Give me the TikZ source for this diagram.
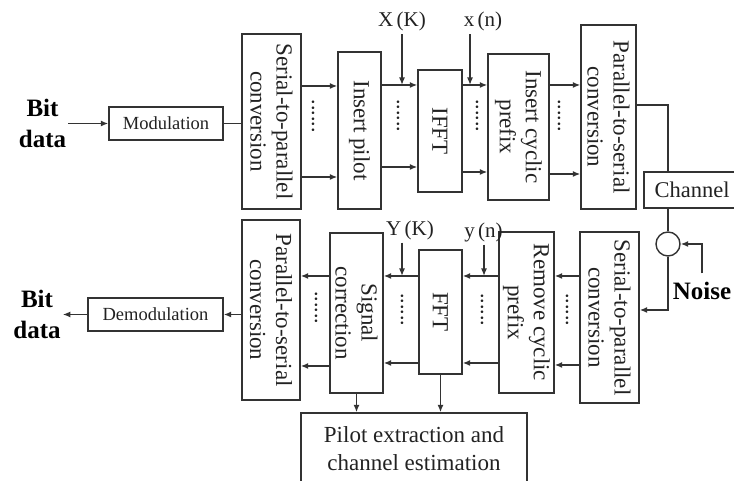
\documentclass[tikz,border=0pt]{standalone}
\usepackage{fontspec}
\setmainfont{Liberation Serif}
\usetikzlibrary{arrows.meta,positioning,calc}
\definecolor{ofline}{HTML}{333333}
\definecolor{oftext}{HTML}{222222}

\begin{document}
\begin{tikzpicture}[x=1pt, y=1pt,
  blk/.style={draw=ofline, line width=1.4pt, inner sep=0pt},
  vt/.style={rotate=-90, align=center, text=oftext, inner sep=0pt,
             font=\fontsize{23}{26}\selectfont},
  ht/.style={text=oftext, font=\fontsize{18.5}{22}\selectfont},
  bigtxt/.style={text=black, font=\fontsize{25}{31}\selectfont\bfseries,
                 align=center, inner sep=2pt},
  sig/.style={text=oftext, font=\fontsize{21}{24}\selectfont, inner sep=3pt},
  dotcol/.style={rotate=-90, text=oftext, font=\fontsize{22}{22}\selectfont,
                 inner sep=0pt},
  ar/.style={-{Latex[length=7.5pt,width=6pt]}, ofline, line width=1.4pt},
  ln/.style={ofline, line width=1.4pt},
]
\useasboundingbox (0,0) rectangle (734,481);
\clip (0,0) rectangle (734,481);

% transmitter
\node[bigtxt] (bit1) at (42.5,357.5) {Bit\\data};
\node[blk, ht, minimum width=114pt, minimum height=33pt] (mod) at (166,357.5) {Modulation};
\node[blk, minimum width=59pt, minimum height=175pt,
      label={[vt]center:Serial-to-parallel\\conversion}] (sp1) at (271.5,359.5) {};
\node[blk, minimum width=43pt, minimum height=157pt,
      label={[vt]center:Insert pilot}] (pilot) at (359.5,350.5) {};
\node[blk, minimum width=44pt, minimum height=122pt,
      label={[vt]center:IFFT}] (ifft) at (440,350) {};
\node[blk, minimum width=61pt, minimum height=146pt,
      label={[vt]center:Insert cyclic\\prefix}] (icp) at (518.5,354) {};
\node[blk, minimum width=55pt, minimum height=184pt,
      label={[vt]center:Parallel-to-serial\\conversion}] (ps1) at (608.5,364) {};

\draw[ar] (bit1) -- (mod);
\draw[ln] (mod) -- (mod -| sp1.west);

\draw[ar] (sp1.east |- 0,395) -- (pilot.west |- 0,395);
\draw[ar] (sp1.east |- 0,304) -- (pilot.west |- 0,304);
\node[dotcol] (d1) at (313,364.5) {......};
\draw[ar] (pilot.east |- 0,396) -- (ifft.west |- 0,396);
\draw[ar] (pilot.east |- 0,314) -- (ifft.west |- 0,314);
\node[dotcol] (d2) at (398,365) {......};
\draw[ar] (ifft.east |- 0,396) -- (icp.west |- 0,396);
\draw[ar] (ifft.east |- 0,309) -- (icp.west |- 0,309);
\node[dotcol] (d3) at (477,365) {......};
\draw[ar] (icp.east |- 0,396) -- (ps1.west |- 0,396);
\draw[ar] (icp.east |- 0,307) -- (ps1.west |- 0,307);
\node[dotcol] (d4) at (559,365) {......};

\node[sig] (xk) at (402,459.5) {X\,(K)};
\coordinate (xkin) at (402,396);
\draw[ar] (xk.south -| xkin) -- (xkin);
\node[sig] (xn) at (483,459.5) {x\,(n)};
\coordinate (xnin) at (470,396);
\draw[ar] (xn.south -| xnin) -- (xnin);

% channel and noise
\node[blk, text=oftext, font=\fontsize{22.5}{26}\selectfont,
      minimum width=96pt, minimum height=36pt] (chan) at (692,291) {Channel};
\node[draw=ofline, line width=1.4pt, circle, minimum size=24pt, inner sep=0pt] (cir) at (668,237) {};
\node[bigtxt, inner ysep=8pt] (noise) at (702,190.5) {Noise};

\draw[ln] (ps1.east |- 0,376) -| (cir |- chan.north);
\draw[ln] (cir |- chan.south) -- (cir);
\draw[ar] (noise.north) |- (cir.east);

% receiver
\node[blk, minimum width=59pt, minimum height=171pt,
      label={[vt]center:Serial-to-parallel\\conversion}] (sp2) at (609.5,163.5) {};
\node[blk, minimum width=55pt, minimum height=161pt,
      label={[vt]center:Remove cyclic\\prefix}] (rcp) at (526.5,168.5) {};
\node[blk, minimum width=43pt, minimum height=124pt,
      label={[vt]center:FFT}] (fft) at (440.5,169) {};
\node[blk, minimum width=53pt, minimum height=160pt,
      label={[vt]center:Signal\\correction}] (sc) at (356.5,168) {};
\node[blk, minimum width=58pt, minimum height=180pt,
      label={[vt]center:Parallel-to-serial\\conversion}] (ps2) at (271,171) {};
\node[blk, ht, minimum width=135pt, minimum height=33pt] (demod) at (155.5,166.5) {Demodulation};
\node[bigtxt] (bit2) at (37,166.5) {Bit\\data};
\node[blk, align=center, text=oftext, font=\fontsize{23}{28}\selectfont,
      minimum width=226pt, minimum height=72pt] (pex) at (414,32) {Pilot extraction and\\channel estimation};

\draw[ar] (cir.south) |- (sp2.east |- 0,171);

\draw[ar] (sp2.west |- 0,205) -- (rcp.east |- 0,205);
\draw[ar] (sp2.west |- 0,116) -- (rcp.east |- 0,116);
\node[dotcol] (d5) at (567,171) {......};
\draw[ar] (rcp.west |- 0,205) -- (fft.east |- 0,205);
\draw[ar] (rcp.west |- 0,118) -- (fft.east |- 0,118);
\node[dotcol] (d6) at (482,171) {......};
\draw[ar] (fft.west |- 0,205) -- (sc.east |- 0,205);
\draw[ar] (fft.west |- 0,118) -- (sc.east |- 0,118);
\node[dotcol] (d7) at (402,171) {......};
\draw[ar] (sc.west |- 0,205) -- (ps2.east |- 0,205);
\draw[ar] (sc.west |- 0,115) -- (ps2.east |- 0,115);
\node[dotcol] (d8) at (316,173) {......};

\draw[ar] (ps2.west |- demod.east) -- (demod.east);
\draw[ar] (demod) -- (bit2);

\node[sig] (yk) at (410,251) {Y\,(K)};
\coordinate (ykin) at (402,205);
\draw[ar] (yk.south -| ykin) -- (ykin);
\node[sig] (yn) at (483.5,249) {y\,(n)};
\coordinate (ynin) at (484,205);
\draw[ar] (yn.south -| ynin) -- (ynin);

\draw[ar] (fft.south) -- (fft.south |- pex.north);
\draw[ar] (sc.south) -- (sc.south |- pex.north);
\end{tikzpicture}
\end{document}
